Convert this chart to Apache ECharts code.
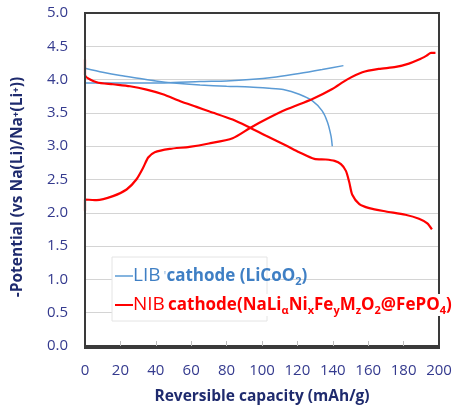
<!DOCTYPE html>
<html>
<head>
<meta charset="utf-8">
<script src="https://cdn.jsdelivr.net/npm/echarts@6/dist/echarts.min.js"></script>
<style>
  html, body { margin: 0; padding: 0; background: #fff; }
  #chart { width: 458px; height: 410px; }
</style>
</head>
<body>
<div id="chart"></div>
<script>
// Charge/discharge profiles: [capacity (mAh/g), potential (V)]
const libCharge = [
  [0, 3.0], [0, 3.95], [10, 3.95], [25, 3.95], [45, 3.95], [65, 3.97],
  [80, 3.98], [93, 4.0], [108, 4.04], [121, 4.09], [134, 4.15], [146, 4.21]
];
const libDischarge = [
  [0, 4.17], [10, 4.11], [20, 4.06], [30, 4.02], [40, 3.98], [50, 3.95],
  [65, 3.92], [80, 3.9], [93, 3.89], [104, 3.87], [112, 3.85], [121, 3.78],
  [128.5, 3.68], [134, 3.53], [137, 3.36], [139, 3.15], [139.7, 3.0]
];
const nibCharge = [
  [0, 2.03], [0, 2.2], [6.6, 2.19], [15.8, 2.25], [23.5, 2.35], [29, 2.5],
  [32.9, 2.68], [35.7, 2.83], [39.4, 2.91], [47.9, 2.96], [59, 2.99],
  [70, 3.04], [83.4, 3.12], [93, 3.27], [102, 3.4], [113.6, 3.55],
  [128.5, 3.71], [139.7, 3.86], [148, 4.0], [156.7, 4.11], [166, 4.16],
  [175.6, 4.19], [183, 4.24], [188.7, 4.3], [193, 4.36], [195.5, 4.4], [198, 4.4]
];
const nibDischarge = [
  [0, 4.3], [0, 4.07], [6.6, 3.96], [15.8, 3.93], [25.4, 3.9], [34.8, 3.85],
  [44, 3.78], [53.5, 3.68], [63, 3.59], [70.4, 3.52], [83.4, 3.4], [93, 3.28],
  [102, 3.16], [113.6, 3.01], [121, 2.91], [129.6, 2.81], [136, 2.8],
  [141, 2.78], [144.6, 2.73], [147.4, 2.63], [149.3, 2.46], [151, 2.27],
  [155, 2.13], [160.6, 2.07], [170, 2.02], [181, 1.97], [188.7, 1.91],
  [193.4, 1.84], [196, 1.75]
];
const xTicks = [0, 20, 40, 60, 80, 100, 120, 140, 160, 180, 200];
const yTicks = [0, 0.5, 1, 1.5, 2, 2.5, 3, 3.5, 4, 4.5, 5];

const navy = '#343a8e';
const titleNavy = '#1f2b6e';
const libBlue = '#5b9bd5';
const libText = '#3f7fc4';
const nibRed = '#ff0000';
const gridGray = '#d4d4d4';
const font = '"Open Sans", "Noto Sans", sans-serif';

// plot rectangle in pixels
const plot = { left: 85, top: 13, right: 439, bottom: 348 };

const chart = echarts.init(document.getElementById('chart'), null, { renderer: 'canvas' });

function curve(name, data, color, width) {
  return {
    name, type: 'line', data, smooth: 0.25, symbol: 'none',
    lineStyle: { color, width }, z: 3
  };
}

chart.setOption({
  animation: false,
  backgroundColor: '#fff',
  grid: {
    left: plot.left, right: 458 - plot.right, top: plot.top, bottom: 410 - plot.bottom
  },
  xAxis: {
    type: 'value', min: xTicks[0], max: xTicks[xTicks.length - 1], interval: 20,
    name: 'Reversible capacity (mAh/g)', nameLocation: 'middle', nameGap: 43,
    nameTextStyle: { color: titleNavy, fontSize: 15.5, fontWeight: 'bold', fontFamily: font },
    axisLine: { show: true, lineStyle: { color: '#3a3a3a', width: 2 } },
    axisTick: { show: true, inside: true, length: 5, lineStyle: { color: '#bdbdbd' } },
    axisLabel: { color: navy, fontSize: 15, fontFamily: font, margin: 17 },
    splitLine: { show: false }
  },
  yAxis: {
    type: 'value', min: yTicks[0], max: yTicks[yTicks.length - 1], interval: 0.5,
    axisLine: { show: true, lineStyle: { color: '#3a3a3a', width: 2 } },
    axisTick: { show: false },
    axisLabel: {
      color: navy, fontSize: 15, fontFamily: font, margin: 17,
      formatter: v => v.toFixed(1)
    },
    splitLine: { show: true, lineStyle: { color: gridGray, type: 'solid', width: 1.2 } }
  },
  series: [
    curve('LIB charge', libCharge, libBlue, 1.5),
    curve('LIB discharge', libDischarge, libBlue, 1.5),
    curve('NIB charge', nibCharge, nibRed, 2.2),
    curve('NIB discharge', nibDischarge, nibRed, 2.2)
  ],
  graphic: [
    {
      // plot frame
      type: 'rect', z: 5, silent: true,
      shape: {
        x: plot.left, y: plot.top,
        width: plot.right - plot.left, height: plot.bottom - plot.top
      },
      style: { fill: 'rgba(0,0,0,0)', stroke: '#3a3a3a', lineWidth: 2 }
    },
    {
      type: 'text', z: 6, x: 18, y: 187, rotation: Math.PI / 2,
      style: {
        text: '-Potential (vs Na(Li)/Na\u207A(Li\u207A))',
        fill: titleNavy, fontSize: 15.5, fontWeight: 'bold', fontFamily: font,
        align: 'center', verticalAlign: 'middle'
      }
    },
    {
      type: 'rect', z: 10,
      shape: { x: 112, y: 257, width: 155, height: 64 },
      style: { fill: '#fff', stroke: '#e4e4e4', lineWidth: 1 }
    },
    {
      type: 'line', z: 11,
      shape: { x1: 115, y1: 276, x2: 133, y2: 276 },
      style: { stroke: libBlue, lineWidth: 1.5 }
    },
    {
      type: 'text', z: 11, x: 133, y: 276,
      style: {
        text: '{n|LIB} {q|\'}{b|cathode (LiCoO}{s|2}{b|)}',
        fontFamily: font, verticalAlign: 'middle',
        rich: {
          n: { fontSize: 19, fill: libText, fontFamily: font },
          q: { fontSize: 13, fill: '#8fb6df', fontFamily: font },
          b: { fontSize: 17, fontWeight: 'bold', fill: libText, fontFamily: font },
          s: { fontSize: 11, fontWeight: 'bold', fill: libText, fontFamily: font, padding: [11, 0, 0, 0] }
        }
      }
    },
    {
      type: 'line', z: 11,
      shape: { x1: 115, y1: 305, x2: 133, y2: 305 },
      style: { stroke: nibRed, lineWidth: 2 }
    },
    {
      type: 'text', z: 12, x: 133, y: 305,
      style: {
        text: '{n|NIB} {b|cathode(NaLi}{s|\u03B1}{b|Ni}{s|x}{b|Fe}{s|y}{b|M}{s|z}{b|O}{s|2}{b|@FePO}{s|4}{b|)}',
        fontFamily: font, verticalAlign: 'middle',
        backgroundColor: '#fff',
        rich: {
          n: { fontSize: 19, fill: nibRed, fontFamily: font },
          b: { fontSize: 17, fontWeight: 'bold', fill: nibRed, fontFamily: font },
          s: { fontSize: 11, fontWeight: 'bold', fill: nibRed, fontFamily: font, padding: [11, 0, 0, 0] }
        }
      }
    }
  ]
});
</script>
</body>
</html>
